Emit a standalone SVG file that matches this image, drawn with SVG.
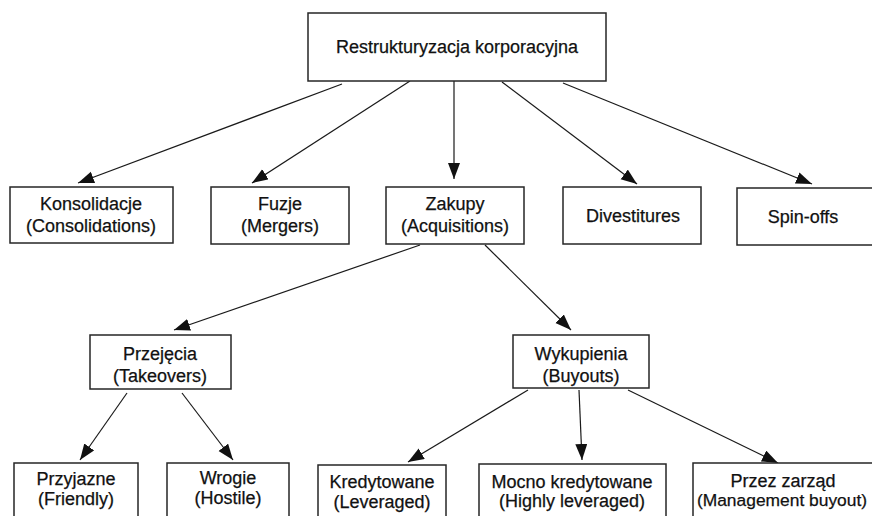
<svg xmlns="http://www.w3.org/2000/svg" width="872" height="516" viewBox="0 0 872 516">
<style>
.box{fill:#fff;stroke:#262626;stroke-width:1.5}
.t{font-family:"Liberation Sans",Arial,sans-serif;font-size:18px;fill:#111;stroke:#111;stroke-width:0.25;text-anchor:middle}
.c{stroke:#1a1a1a;stroke-width:1.2;fill:none;marker-end:url(#ah)}
</style>
<defs>
<marker id="ah" markerUnits="userSpaceOnUse" markerWidth="17" markerHeight="13" refX="16" refY="6" orient="auto">
<path d="M0,0 L16,6 L0,12 z" fill="#111"/>
</marker>
</defs>
<rect width="872" height="516" fill="#fff"/>
<g id="connectors">
<line class="c" x1="342" y1="84" x2="78" y2="183"/>
<line class="c" x1="410" y1="81" x2="252" y2="183"/>
<line class="c" x1="454" y1="81" x2="454" y2="179"/>
<line class="c" x1="502" y1="82" x2="637" y2="184"/>
<line class="c" x1="563" y1="83" x2="812" y2="184"/>
<line class="c" x1="420" y1="245" x2="174" y2="330"/>
<line class="c" x1="485" y1="245" x2="571" y2="330"/>
<line class="c" x1="127" y1="393" x2="80" y2="460"/>
<line class="c" x1="182" y1="393" x2="233" y2="460"/>
<line class="c" x1="528" y1="390" x2="408" y2="462"/>
<line class="c" x1="579" y1="390" x2="582" y2="460"/>
<line class="c" x1="628" y1="390" x2="778" y2="463"/>
</g>
<g id="n-root"><rect class="box" x="308" y="13" width="298" height="68"/><text class="t" x="457" y="53">Restrukturyzacja korporacyjna</text></g>
<g id="n-kons"><rect class="box" x="10" y="187" width="163" height="56"/><text class="t" x="91" y="210">Konsolidacje</text><text class="t" x="91" y="232">(Consolidations)</text></g>
<g id="n-fuzje"><rect class="box" x="211" y="187" width="138" height="57"/><text class="t" x="280" y="210">Fuzje</text><text class="t" x="280" y="232">(Mergers)</text></g>
<g id="n-zakupy"><rect class="box" x="386" y="187" width="138" height="57"/><text class="t" x="455" y="210">Zakupy</text><text class="t" x="455" y="232">(Acquisitions)</text></g>
<g id="n-div"><rect class="box" x="563" y="187" width="138" height="57"/><text class="t" x="633" y="222">Divestitures</text></g>
<g id="n-spin"><rect class="box" x="737" y="188" width="140" height="57"/><text class="t" x="803" y="223">Spin-offs</text></g>
<g id="n-przej"><rect class="box" x="90" y="335" width="141" height="54"/><text class="t" x="160" y="360">Przejęcia</text><text class="t" x="160" y="382">(Takeovers)</text></g>
<g id="n-wyk"><rect class="box" x="513" y="335" width="136" height="53"/><text class="t" x="581" y="360">Wykupienia</text><text class="t" x="581" y="382">(Buyouts)</text></g>
<g id="n-przyj"><rect class="box" x="14" y="463" width="124" height="60"/><text class="t" x="76" y="485">Przyjazne</text><text class="t" x="76" y="505">(Friendly)</text></g>
<g id="n-wrog"><rect class="box" x="167" y="463" width="122" height="60"/><text class="t" x="228" y="484">Wrogie</text><text class="t" x="228" y="504">(Hostile)</text></g>
<g id="n-kred"><rect class="box" x="318" y="465" width="128" height="60"/><text class="t" x="382" y="488">Kredytowane</text><text class="t" x="382" y="508">(Leveraged)</text></g>
<g id="n-mocno"><rect class="box" x="479" y="464" width="187" height="60"/><text class="t" x="572" y="488">Mocno kredytowane</text><text class="t" x="572" y="507">(Highly leveraged)</text></g>
<g id="n-zarzad"><rect class="box" x="693" y="463" width="190" height="60"/><text class="t" x="783" y="487">Przez zarząd</text><text class="t" x="782" y="506" style="font-size:17.4px">(Management buyout)</text></g>
</svg>
